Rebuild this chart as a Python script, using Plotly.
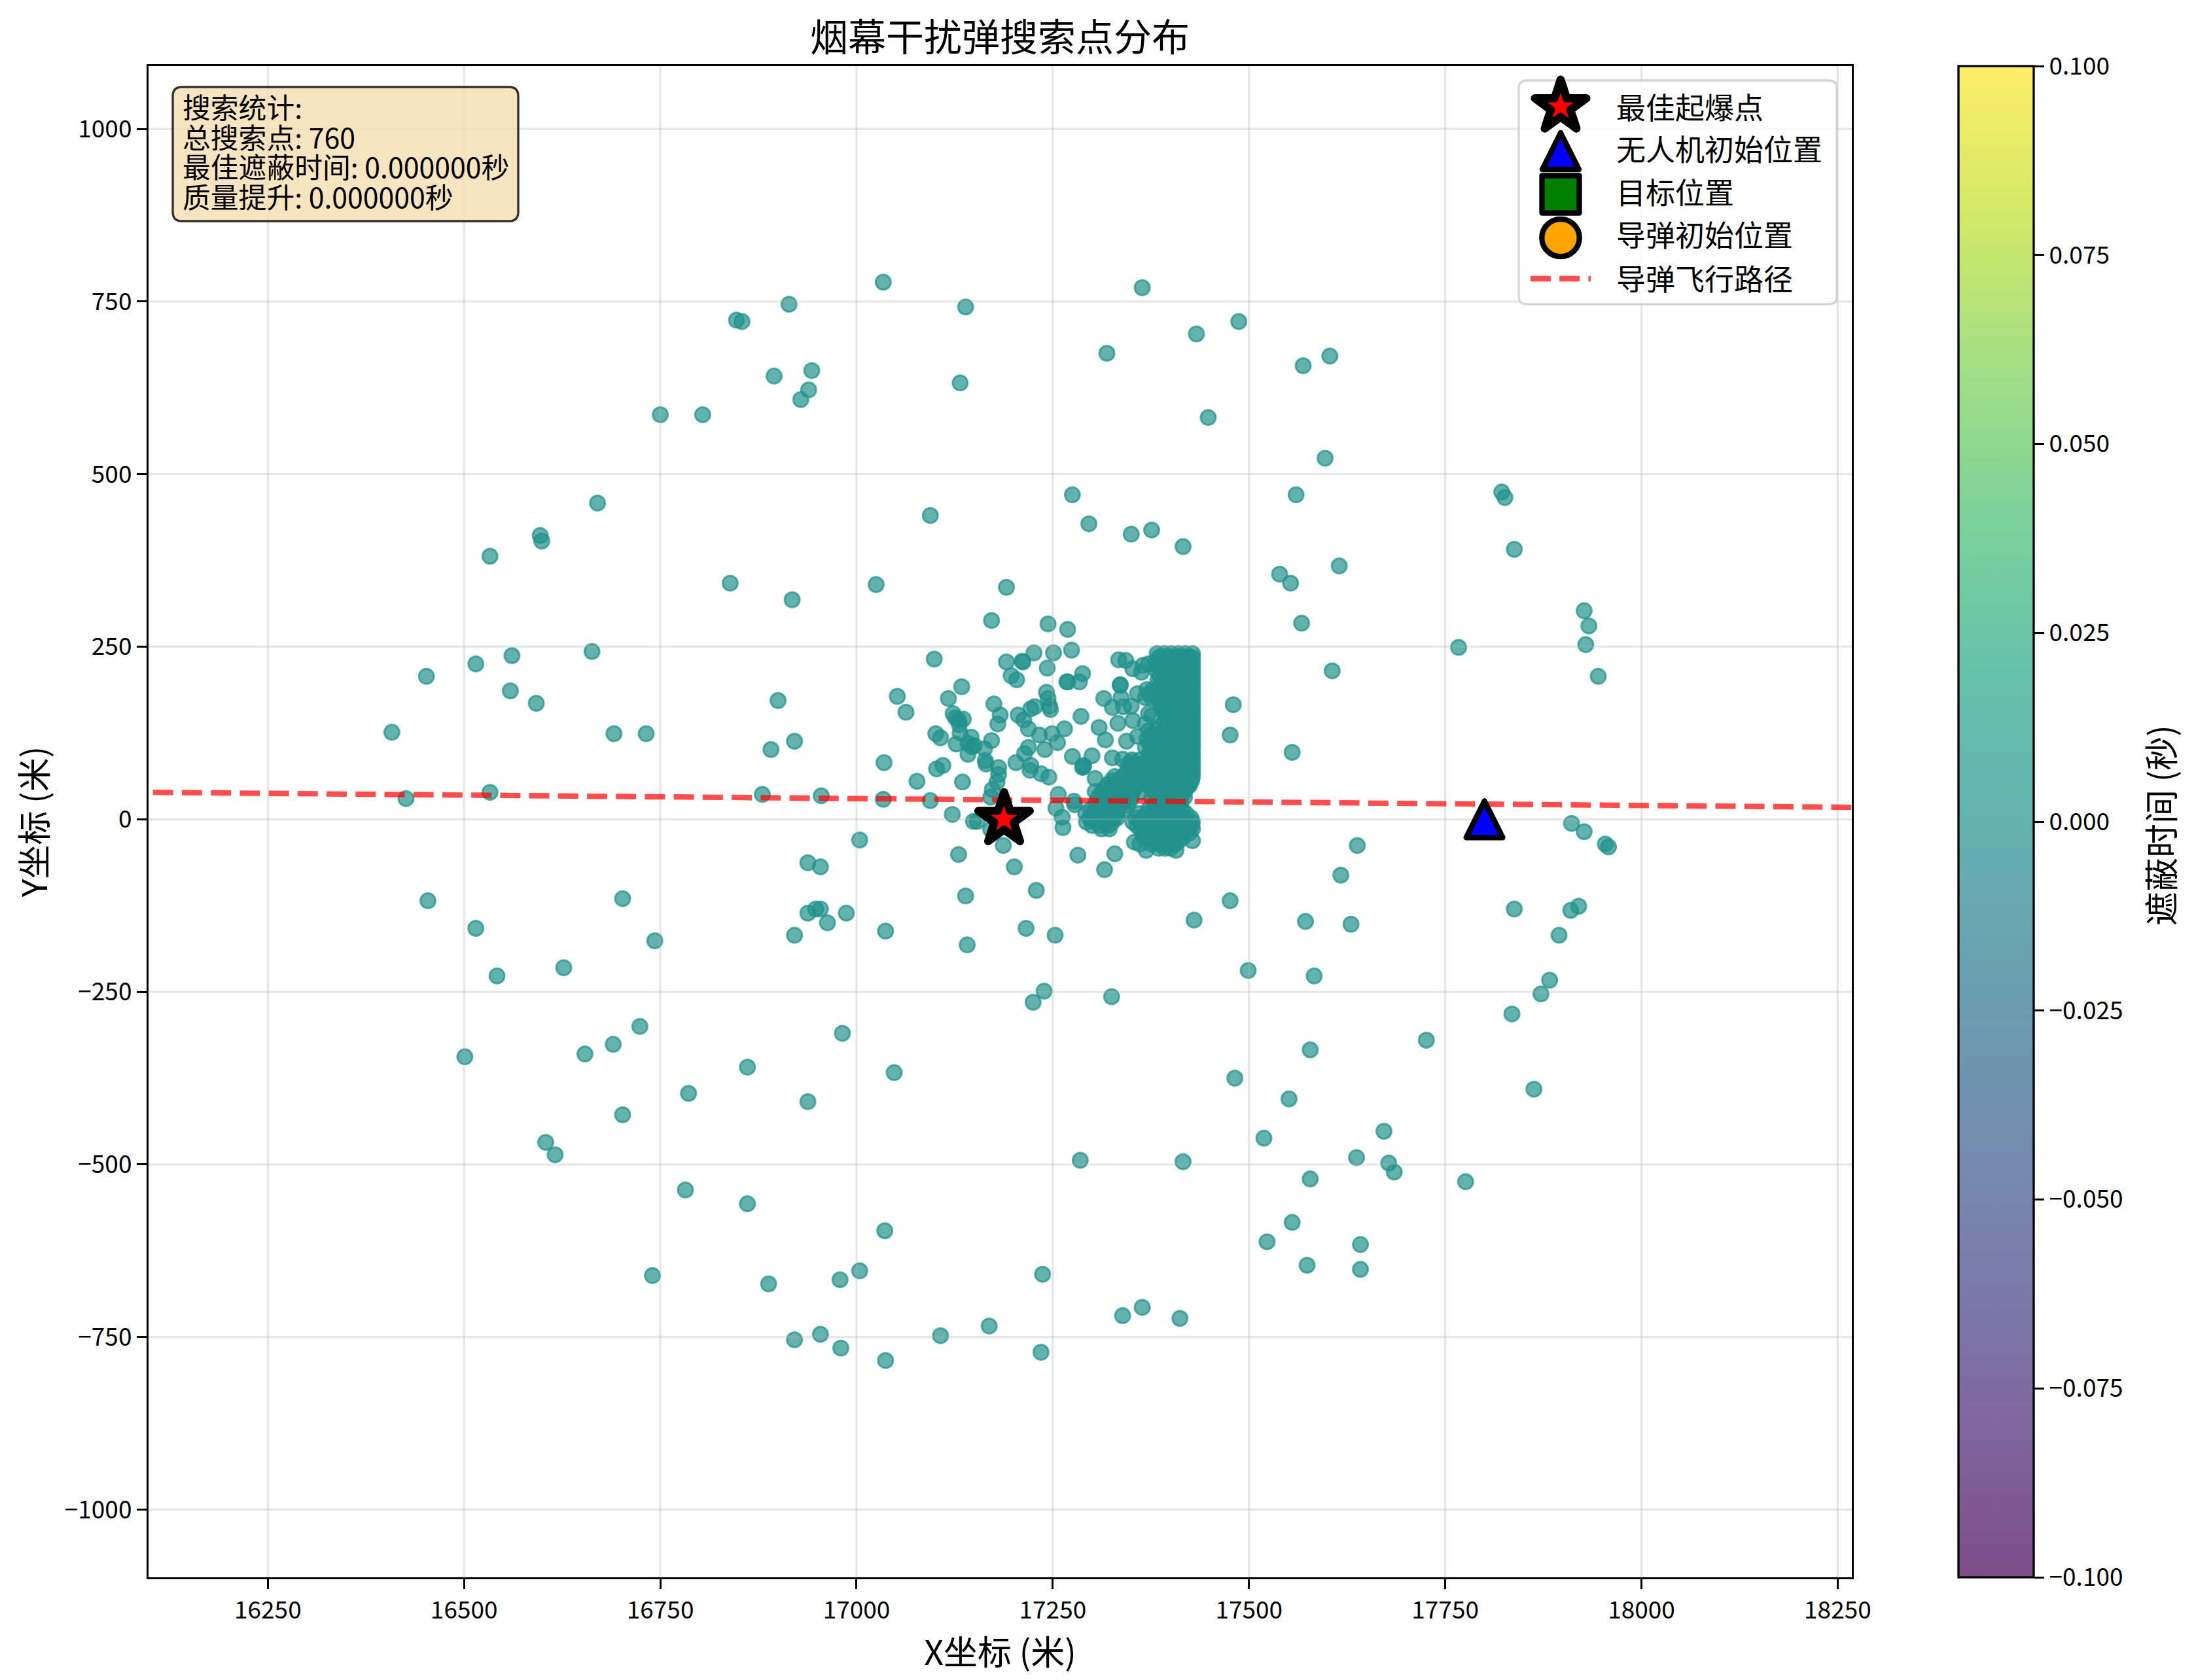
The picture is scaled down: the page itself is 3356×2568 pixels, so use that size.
import plotly.graph_objects as go
import math

FONT = "Noto Sans CJK SC"
W, H = 3356, 2568
L, R, T, B = 227, 2830, 101, 2411

x_ticks = [16250, 16500, 16750, 17000, 17250, 17500, 17750, 18000, 18250]
y_ticks = [-1000, -750, -500, -250, 0, 250, 500, 750, 1000]
cbar_ticks = [-0.1, -0.075, -0.05, -0.025, 0, 0.025, 0.05, 0.075, 0.1]
x_limits = [16098, 18268]
y_limits = [-1098, 1091]

viridis = ["#440154", "#482475", "#414487", "#355f8d", "#2a788e", "#21918c",
           "#22a884", "#44bf70", "#7ad151", "#bddf26", "#fde725"]

outer_points = [
 (17034,778),(16847,723),(16854,721),(16914,746),(17139,742),(17364,770),(17433,703),(17487,721),
 (16895,642),(16943,650),(16939,622),(16929,608),(17132,632),(17319,675),(17569,657),(17603,671),
 (16750,586),(16804,586),(17448,582),(17597,523),(17560,470),(16670,458),(17822,474),(17826,466),
 (17275,470),(17094,440),(17296,428),(17350,413),(17376,419),(17416,395),(17838,391),(16597,411),
 (16599,403),(16533,381),(17539,355),(17553,342),(17615,367),(16839,342),(16918,318),(17025,340),
 (17191,336),(17927,302),(17933,280),(17929,253),(17945,207),(17567,284),(17767,249),(16663,243),
 (16452,207),(16561,237),(16515,225),(16559,186),(16592,168),(16900,172),(17052,178),(17606,215),
 (17480,166),(17476,122),(17555,97),(16691,124),(16732,124),(16408,126),(16891,101),(16921,113),
 (16880,36),(16533,39),(16426,30),(16955,34),(17911,-6),(17927,-18),(17954,-36),(17958,-40),
 (17638,-38),(16938,-63),(16954,-69),(17004,-30),(16454,-118),(16515,-158),(16702,-115),(16743,-176),
 (16542,-227),(16627,-215),(16938,-136),(16948,-130),(16954,-130),(16963,-150),(16987,-136),(16921,-168),
 (17037,-162),(17476,-118),(17430,-146),(17572,-148),(17617,-81),(17630,-152),(17838,-130),(17910,-132),
 (17920,-126),(17895,-168),(17883,-233),(17872,-253),(17835,-282),(17863,-391),(17499,-219),(17583,-227),
 (17726,-320),(17578,-334),(17482,-375),(17551,-405),(17519,-462),(17672,-452),(17678,-498),(17685,-511),
 (17637,-490),(17578,-521),(17776,-525),(17285,-494),(17416,-496),(16724,-300),(16690,-326),(16654,-340),
 (16501,-344),(16604,-468),(16616,-486),(16702,-428),(16786,-397),(16861,-359),(16938,-409),(16982,-310),
 (17048,-367),(16782,-537),(16861,-557),(17036,-596),(16740,-661),(16888,-673),(16979,-667),(17004,-654),
 (16921,-754),(16954,-746),(16980,-766),(17037,-784),(17107,-748),(17169,-734),(17237,-659),(17235,-772),
 (17339,-719),(17364,-707),(17412,-723),(17523,-612),(17555,-584),(17574,-646),(17642,-616),(17642,-652),
 (17325,-257),(17239,-249),(17225,-265),(17139,-111),(17141,-182),(17216,-158),(17253,-168),(17229,-103),
]

inner_points = [
 (17172,288),(17244,283),(17269,275),(17274,245),(17251,241),(17226,241),(17191,228),(17211,229),
 (17212,228),(17243,219),(17099,232),(17197,208),(17204,202),(17288,211),(17284,199),(17268,199),
 (17269,199),(17134,192),(17117,175),(17063,155),(17242,184),(17244,175),(17227,163),
 (17247,159),(17246,164),(17222,160),(17175,167),(17206,151),(17183,151),(17180,138),(17123,153),
 (17130,144),(17136,145),(17126,147),(17131,137),(17286,149),(17315,175),(17326,162),(17337,176),
 (17336,194),(17336,195),(17340,163),(17350,164),(17333,139),(17352,143),(17309,133),(17317,115),
 (17344,113),(17265,131),(17249,124),(17256,111),(17240,101),(17233,122),(17219,131),(17213,144),
 (17101,124),(17107,118),(17132,125),(17127,109),(17146,119),(17142,110),(17150,107),(17147,105),
 (17172,114),(17163,102),(17142,94),(17164,85),(17165,80),(17219,104),(17214,95),(17203,82),
 (17222,78),(17221,71),(17235,66),(17245,61),(17275,91),(17300,92),(17288,75),(17289,76),
 (17110,78),(17102,73),(17077,55),(17135,54),(17181,75),(17181,65),(17179,54),(17173,43),
 (17171,32),(17094,27),(17035,82),(17034,29),(17122,7),(17149,-3),(17154,-3),(17171,-15),
 (17187,-38),(17130,-51),(17201,-69),(17257,36),(17254,16),(17262,3),(17263,-12),(17278,21),
 (17277,26),(17282,-52),(17329,-50),(17316,-73),(17334,231),(17343,230),(17352,218),
 (17363,213),(17372,225),(17365,223),(17372,153),(17376,150),(17358,120),(17368,138),(17362,40),
 (17369,78),(17358,182),(17326,89),(17339,87),(17350,82),(17304,59),(17304,40),(17289,78),
 (17332,2),(17424,49),(17416,37),(17354,-33),(17361,-36),(17369,-45),(17407,-45),(17428,-31),
]

dense_rows = {
 240: [17383,17392,17401,17410,17419,17428],
 234: [17385,17396,17405,17414,17423,17428],
 227: [17381,17390,17399,17408,17418,17428],
 221: [17384,17394,17403,17413,17423,17428],
 214: [17383,17392,17402,17411,17420,17428],
 208: [17386,17397,17406,17416,17425,17428],
 201: [17384,17393,17403,17412,17421,17428],
 195: [17388,17398,17408,17417,17426,17428],
 188: [17370,17378,17387,17396,17405,17414,17423,17428],
 182: [17373,17382,17391,17400,17409,17418,17426,17428],
 176: [17368,17376,17384,17393,17402,17411,17420,17428],
 170: [17386,17395,17404,17413,17422,17428],
 164: [17388,17397,17406,17415,17424,17428],
 158: [17391,17399,17408,17417,17426,17428],
 152: [17393,17401,17410,17419,17428],
 146: [17396,17405,17414,17423,17428],
 140: [17393,17401,17410,17419,17428],
 134: [17385,17396,17405,17414,17423,17428],
 128: [17372,17382,17392,17401,17410,17419,17428],
 122: [17375,17386,17396,17405,17414,17423,17428],
 116: [17370,17380,17390,17400,17409,17418,17428],
 110: [17373,17384,17394,17404,17413,17423,17428],
 104: [17368,17378,17388,17398,17408,17418,17428],
 98: [17374,17385,17396,17405,17414,17424,17428],
 92: [17372,17382,17392,17401,17410,17419,17428],
 86: [17351,17361,17376,17388,17398,17408,17418,17428],
 80: [17346,17356,17366,17376,17386,17396,17406,17416,17428],
 74: [17349,17359,17369,17381,17391,17401,17411,17421,17428],
 68: [17344,17354,17364,17374,17384,17394,17404,17414,17424,17428],
 62: [17329,17339,17349,17359,17369,17379,17389,17399,17409,17419,17428],
 56: [17325,17334,17344,17354,17364,17374,17384,17394,17404,17414,17427],
 50: [17320,17330,17339,17349,17359,17370,17381,17391,17401,17411,17424],
 44: [17316,17325,17334,17344,17354,17376,17386,17396,17408,17420],
 38: [17312,17321,17331,17341,17351,17380,17390,17400,17412],
 32: [17308,17318,17328,17338,17350,17376,17386,17396,17408,17418],
 26: [17306,17320,17330,17340,17348,17381,17391,17401,17413],
 20: [17305,17315,17325,17335,17345,17380,17390,17400,17410],
 14: [17298,17310,17320,17330,17340,17372,17385,17395,17405,17415],
 8: [17292,17302,17312,17322,17332,17360,17370,17380,17390,17400,17410,17420],
 2: [17297,17308,17318,17328,17356,17366,17376,17386,17396,17406,17416,17426],
 -4: [17293,17305,17316,17326,17352,17362,17372,17382,17392,17402,17412,17422,17428],
 -9: [17300,17310,17321,17357,17367,17377,17387,17397,17407,17417,17427],
 -14: [17312,17322,17362,17372,17382,17392,17402,17412,17422,17428],
 -20: [17364,17374,17384,17394,17404,17414,17424],
 -26: [17366,17376,17386,17396,17406,17416],
 -31: [17372,17381,17391,17401,17411],
 -36: [17376,17386,17396,17406],
 -42: [17385,17393,17400],
}

best_point = (17188, 0)
uav_start = (17800, 0)
target_pos = (0, 200)
missile_start = (20000, 0)

legend_labels = ["最佳起爆点", "无人机初始位置", "目标位置", "导弹初始位置", "导弹飞行路径"]
box_lines = ["搜索统计:", "总搜索点: 760", "最佳遮蔽时间: 0.000000秒", "质量提升: 0.000000秒"]

search_x = [p[0] for p in outer_points + inner_points]
search_y = [p[1] for p in outer_points + inner_points]
for row_y, row_x in dense_rows.items():
    search_x += row_x
    search_y += [row_y] * len(row_x)
shield_time = [0] * len(search_x)


def hex_rgba(h, a=0.7):
    return f"rgba({int(h[1:3],16)},{int(h[3:5],16)},{int(h[5:7],16)},{a})"


def fx(p):
    return (p - L) / (R - L)


def fy(p):
    return (B - p) / (B - T)


scale = [[i / 10, hex_rgba(c)] for i, c in enumerate(viridis)]
DASH = "30.9px,13.32px"

fig = go.Figure()
fig.add_trace(go.Scatter(
    x=search_x, y=search_y, mode="markers", name="搜索点",
    marker=dict(size=23, color=shield_time, cmin=-0.1, cmax=0.1, colorscale=scale,
                line=dict(width=3, color=hex_rgba("#21918c")),
                colorbar=dict(
                    x=fx(2993), xanchor="left", y=0, yanchor="bottom", lenmode="fraction", len=1,
                    thicknessmode="pixels", thickness=115, outlinewidth=3.3, outlinecolor="black",
                    tickmode="array", tickvals=cbar_ticks, tickformat=".3f",
                    ticks="outside", ticklen=15, tickwidth=3.3, tickcolor="black",
                    tickfont=dict(family=FONT, size=37, color="black"), xpad=0, ypad=0,
                )),
))

gx, gy = [], []
for t in x_ticks:
    gx += [t, t, None]
    gy += [y_limits[0], y_limits[1], None]
for t in y_ticks:
    gx += [x_limits[0], x_limits[1], None]
    gy += [t, t, None]
fig.add_trace(go.Scatter(x=gx, y=gy, mode="lines", hoverinfo="skip", showlegend=False,
                         line=dict(color="rgba(176,176,176,0.3)", width=3.3)))

fig.add_trace(go.Scatter(
    x=[missile_start[0], target_pos[0]], y=[missile_start[1], target_pos[1]],
    mode="lines", name=legend_labels[4],
    line=dict(color="rgba(255,0,0,0.7)", width=8.3, dash=DASH)))
fig.add_trace(go.Scatter(x=[uav_start[0]], y=[uav_start[1]], mode="markers", name=legend_labels[1],
                         marker=dict(symbol="triangle-up", size=30, color="blue")))
fig.add_trace(go.Scatter(x=[target_pos[0]], y=[target_pos[1]], mode="markers", name=legend_labels[2],
                         marker=dict(symbol="square", size=57, color="green", line=dict(width=8.3, color="black"))))
fig.add_trace(go.Scatter(x=[missile_start[0]], y=[missile_start[1]], mode="markers", name=legend_labels[3],
                         marker=dict(symbol="circle", size=57, color="orange", line=dict(width=8.3, color="black"))))
fig.add_trace(go.Scatter(x=[best_point[0]], y=[best_point[1]], mode="markers", name=legend_labels[0],
                         marker=dict(symbol="star", size=59, color="red", line=dict(width=12.5, color="black"))))


def rounded(w, h, r):
    a, b = w / 2, h / 2
    return (f"M {-a+r} {-b} L {a-r} {-b} Q {a} {-b} {a} {-b+r} L {a} {b-r} Q {a} {b} {a-r} {b} "
            f"L {-a+r} {b} Q {-a} {b} {-a} {b-r} L {-a} {-b+r} Q {-a} {-b} {-a+r} {-b} Z")


def star_path(rad):
    pts = []
    for i in range(10):
        r = rad if i % 2 == 0 else rad * 0.382
        ang = math.pi / 2 + i * math.pi / 5
        pts.append((r * math.cos(ang), r * math.sin(ang)))
    return "M " + " L ".join(f"{a:.2f} {b:.2f}" for a, b in pts) + " Z"


TRI = "M -28 -28 L 28 -28 L 0 28 Z"
shapes = [
    dict(type="path", xref="x", yref="y", xsizemode="pixel", ysizemode="pixel",
         xanchor=uav_start[0], yanchor=uav_start[1], path=TRI,
         fillcolor="blue", line=dict(color="black", width=8.3)),
    dict(type="path", xref="paper", yref="paper", xsizemode="pixel", ysizemode="pixel",
         xanchor=fx((264 + 792) / 2), yanchor=fy((133 + 338) / 2), path=rounded(528, 205, 14),
         fillcolor="rgba(245,222,179,0.8)", line=dict(color="rgba(0,0,0,0.8)", width=3.3)),
    dict(type="path", xref="paper", yref="paper", xsizemode="pixel", ysizemode="pixel",
         xanchor=fx((2321 + 2807) / 2), yanchor=fy((123 + 465) / 2), path=rounded(486, 342, 12),
         fillcolor="rgba(255,255,255,0.8)", line=dict(color="rgba(204,204,204,0.8)", width=3.3)),
]
LEG_X = 2385
LEG_Y = [163, 231, 297, 363.5, 426]
TEXT_Y = [162, 226, 292, 357, 424]
pix = dict(type="path", xref="paper", yref="paper", xsizemode="pixel", ysizemode="pixel",
           xanchor=fx(LEG_X))
shapes.append({**pix, "yanchor": fy(LEG_Y[0]), "path": star_path(41.3), "fillcolor": "red",
               "line": dict(color="black", width=12.5)})
shapes.append({**pix, "yanchor": fy(LEG_Y[1]), "path": TRI, "fillcolor": "blue",
               "line": dict(color="black", width=8.3)})
shapes.append({**pix, "yanchor": fy(LEG_Y[2]), "path": "M -28.5 -28.5 L 28.5 -28.5 L 28.5 28.5 L -28.5 28.5 Z",
               "fillcolor": "green", "line": dict(color="black", width=8.3)})
shapes.append(dict(type="circle", xref="paper", yref="paper", xsizemode="pixel", ysizemode="pixel",
                   xanchor=fx(LEG_X), yanchor=fy(LEG_Y[3]), x0=-28.7, x1=28.7, y0=-28.7, y1=28.7,
                   fillcolor="orange", line=dict(color="black", width=8.3)))
shapes.append(dict(type="line", xref="paper", yref="paper", x0=fx(2339), x1=fx(2431),
                   y0=fy(LEG_Y[4]), y1=fy(LEG_Y[4]),
                   line=dict(color="rgba(255,0,0,0.7)", width=8.3, dash=DASH)))

annotations = []
for lab, ty in zip(legend_labels, TEXT_Y):
    annotations.append(dict(text=lab, xref="paper", yref="paper", x=fx(2468), y=fy(ty), xanchor="left",
                            yanchor="middle", showarrow=False,
                            font=dict(family=FONT, size=45, color="black")))
annotations.append(dict(text="<br>".join(box_lines), xref="paper", yref="paper", x=fx(277), y=fy(129),
                        xanchor="left", yanchor="top", align="left", showarrow=False,
                        font=dict(family=FONT, size=42.8, color="black")))
annotations.append(dict(text="遮蔽时间 (秒)", xref="paper", yref="paper", x=fx(3300), y=fy(1262), textangle=-90,
                        xanchor="center", yanchor="middle", showarrow=False,
                        font=dict(family=FONT, size=52, color="black")))

axis_common = dict(showgrid=False, zeroline=False, showline=True, mirror=True, linecolor="black",
                   linewidth=3.3, ticks="outside", ticklen=15, tickwidth=3.3, tickcolor="black",
                   tickfont=dict(family=FONT, size=37, color="black"), tickmode="array", tickformat="d")

fig.update_layout(
    width=W, height=H, showlegend=False, plot_bgcolor="white", paper_bgcolor="white",
    margin=dict(l=L, r=W - R, t=T, b=H - B, autoexpand=False),
    title=dict(text="烟幕干扰弹搜索点分布", x=fx(1528), xref="paper", y=1 - 58 / H, yref="container",
               xanchor="center", yanchor="middle", font=dict(family=FONT, size=58, color="black")),
    xaxis=dict(range=x_limits, tickvals=x_ticks,
               title=dict(text="X坐标 (米)", standoff=1, font=dict(family=FONT, size=52, color="black")),
               **axis_common),
    yaxis=dict(range=y_limits, tickvals=y_ticks,
               title=dict(text="Y坐标 (米)", standoff=10, font=dict(family=FONT, size=52, color="black")),
               **axis_common),
    shapes=shapes, annotations=annotations, hovermode=False,
)

post = """
document.body.style.margin='0';
var s=document.createElement('style');
s.textContent='.shapelayer path,.scatterlayer .point{stroke-linejoin:round}';
document.head.appendChild(s);
var gd=document.getElementById('{plot_id}');
function tighten(){
  gd.querySelectorAll('.annotation-text').forEach(function(t){
    if(t.textContent.indexOf('搜索统计')!==0) return;
    t.querySelectorAll('tspan.line').forEach(function(l,i){ l.setAttribute('dy',(i*1.066)+'em'); });
  });
}
tighten();
setTimeout(tighten,100);
if(gd.on) gd.on('plotly_afterplot',tighten);
"""
fig.write_html("out.html", post_script=post, config={"displayModeBar": False})
